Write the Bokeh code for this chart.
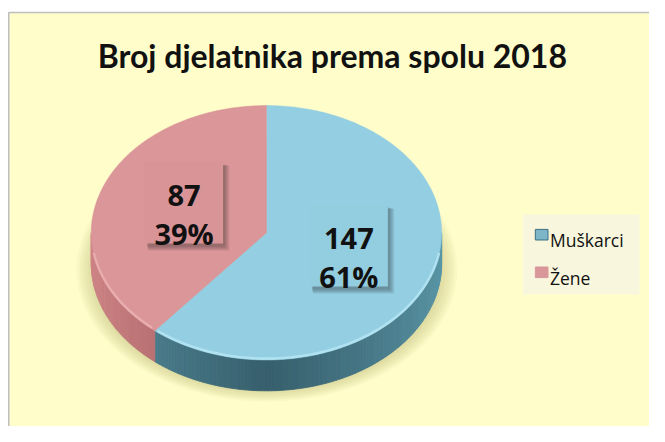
import numpy as np
from bokeh.plotting import figure
from bokeh.models import Range1d
from bokeh.core.properties import value
from bokeh.embed import file_html
from bokeh.resources import INLINE

# ---- data ----
title = "Broj djelatnika prema spolu 2018"
categories = ["Muškarci", "Žene"]
counts = [147, 87]
percents = [61, 39]

# ---- style ----
top_colors = ["#93CEE2", "#DB9699"]
side_light = ["#5A97A8", "#CF8587"]
side_dark = ["#375F6D", "#A45C60"]
rim_colors = ["#B9E7F5", "#EDB3B4"]
box_colors = ["#93CDE0", "#D99497"]
legend_colors = ["#7DB6C8", "#D9979A"]
legend_lines = ["#3E6E7E", "#D9979A"]

W, H = 649, 426
p = figure(width=W, height=H, x_range=Range1d(0, 665), y_range=Range1d(442, 0),
           output_backend="svg", toolbar_location=None, min_border=0,
           x_axis_location=None, y_axis_location=None)
p.grid.visible = False
p.outline_line_color = None
p.background_fill_color = "white"
p.border_fill_color = "white"

# chart panel
p.quad(left=[8.5], right=[720], top=[12.5], bottom=[480], fill_color="#FFFDCA",
       line_color="#BEBEBE", line_width=1.5)

# pie geometry
cx, cy, a, b, depth = 272.5, 241.0, 179.5, 132.0, 32.0


def pt(theta, dy=0.0):
    return cx + a * np.sin(theta), cy - b * np.cos(theta) + dy


def mix(c1, c2, t):
    c1 = [int(c1[i:i + 2], 16) for i in (1, 3, 5)]
    c2 = [int(c2[i:i + 2], 16) for i in (1, 3, 5)]
    return "#%02x%02x%02x" % tuple(int(round(u + (v - u) * t)) for u, v in zip(c1, c2))


# soft shadow under the pie
for k in range(10):
    sa = 195 - k * 3.0
    sb = 137 - k * 2.0
    th = np.linspace(0, 2 * np.pi, 200)
    p.patch(273 + sa * np.sin(th), 279 - sb * np.cos(th), fill_color="#8E8C50",
            fill_alpha=0.055, line_color=None)

total = float(sum(percents))
fr = np.concatenate([[0], np.cumsum(percents) / total])
starts = 2 * np.pi * fr[:-1]
ends = 2 * np.pi * fr[1:]

# sides (visible front half)
for i in range(len(categories)):
    s = max(starts[i], np.pi / 2)
    e = min(ends[i], 3 * np.pi / 2)
    if e <= s:
        continue
    n = max(2, int((e - s) / 0.02))
    th = np.linspace(s, e, n + 1)
    xs, ys, cols = [], [], []
    for j in range(n):
        t0, t1 = th[j], th[j + 1]
        x0, y0 = pt(t0)
        x1, y1 = pt(t1)
        xs.append([x0, x1, x1, x0])
        ys.append([y0, y1, y1 + depth, y0 + depth])
        dark = 1 - abs(np.sin((t0 + t1) / 2))
        cols.append(mix(side_light[i], side_dark[i], dark ** 0.7))
    p.patches(xs, ys, fill_color=cols, line_color=cols, line_width=0.8)

# top faces
for i in range(len(categories)):
    th = np.linspace(starts[i], ends[i], 200)
    x, y = pt(th)
    p.patch(np.concatenate([[cx], x]), np.concatenate([[cy], y]),
            fill_color=top_colors[i], line_color=top_colors[i], line_width=0.5)

# rim highlight on front edge of top face
for i in range(len(categories)):
    s = max(starts[i], np.pi / 2 + 0.15)
    e = min(ends[i], 3 * np.pi / 2 - 0.15)
    if e <= s:
        continue
    th = np.linspace(s + 0.02, e - 0.02, 100)
    x, y = pt(th, -1.5)
    p.line(x, y, line_color=rim_colors[i], line_width=2.5, line_alpha=0.8)

# data labels in boxes
bw, bh = 80, 85
for i in range(len(categories)):
    mid = (starts[i] + ends[i]) / 2
    lx = cx + 0.5 * a * np.sin(mid)
    ly = cy - 0.5 * b * np.cos(mid) - 9
    for k in range(6):
        g = k * 0.9
        p.quad(left=[lx - bw / 2 + 2 + g * 0.3], right=[lx + bw / 2 + 2 + g],
               top=[ly - bh / 2 + 3 + g * 0.3], bottom=[ly + bh / 2 + 3 + g],
               fill_color="#1A1A1A", fill_alpha=0.065, line_color=None)
    p.quad(left=[lx - bw / 2], right=[lx + bw / 2], top=[ly - bh / 2], bottom=[ly + bh / 2],
           fill_color=box_colors[i], line_color=None)
    p.text(x=[lx, lx], y=[ly - 7.5, ly + 32.5],
           text=[str(counts[i]), "%d%%" % percents[i]],
           text_font=value("Open Sans"), text_font_style="bold", text_font_size="29px",
           text_color="#111111", text_align="center", text_baseline="alphabetic")

# legend
p.quad(left=[535], right=[655], top=[222], bottom=[305], fill_color="#F8F7DE", line_color=None)
leg_y = [243, 282]
for i in range(len(categories)):
    p.quad(left=[548], right=[561], top=[leg_y[i] - 5.5], bottom=[leg_y[i] + 5.5],
           fill_color=legend_colors[i], line_color=legend_lines[i], line_width=1)
    p.text(x=[563], y=[leg_y[i] + 5.5], text=[categories[i]], text_font=value("Open Sans"),
           text_font_size="17.5px", text_color="#111111", text_align="left",
           text_baseline="alphabetic")

# title
p.text(x=[340], y=[57], text=[title], text_font=value("Lato"), text_font_style="bold",
       text_font_size="32px", text_color="#111111", text_align="center",
       text_baseline="alphabetic")

open("out.html", "w").write(file_html(p, INLINE))
